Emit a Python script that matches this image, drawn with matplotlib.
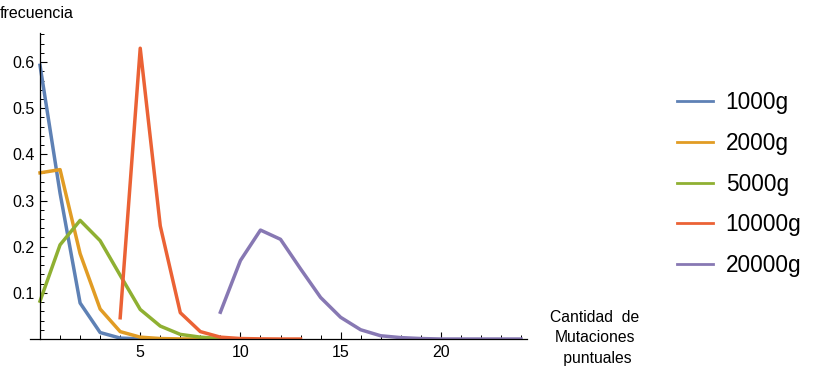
import numpy as np
import matplotlib
matplotlib.use('Agg')
import matplotlib.pyplot as plt

plt.rcParams['font.family'] = ['Liberation Sans', 'DejaVu Sans']

# frecuencia de mutaciones puntuales por generacion
labels = ['1000g', '2000g', '5000g', '10000g', '20000g']
colors = ['#5E81B5', '#E19C24', '#8FB032', '#EB6235', '#8778B3']

x_1000 = np.arange(0, 7)
f_1000 = [0.593, 0.316, 0.078, 0.014, 0.002, 0.0003, 0.0]

x_2000 = np.arange(0, 9)
f_2000 = [0.360, 0.367, 0.185, 0.065, 0.016, 0.004, 0.001, 0.0002, 0.0]

x_5000 = np.arange(0, 11)
f_5000 = [0.082, 0.204, 0.257, 0.213, 0.138, 0.064, 0.028, 0.010, 0.004, 0.001, 0.0]

x_10000 = np.arange(4, 14)
f_10000 = [0.046, 0.630, 0.245, 0.057, 0.016, 0.004, 0.001, 0.0003, 0.0, 0.0]

x_20000 = np.arange(9, 25)
f_20000 = [0.058, 0.170, 0.236, 0.216, 0.152, 0.090, 0.047, 0.020, 0.007,
           0.003, 0.001, 0.0, 0.0, 0.0, 0.0, 0.0]

series = [(x_1000, f_1000), (x_2000, f_2000), (x_5000, f_5000),
          (x_10000, f_10000), (x_20000, f_20000)]

fig = plt.figure(figsize=(8.17, 3.73), dpi=100)
ax = fig.add_axes([30 / 817, 1 - 339 / 373, 497 / 817, 306 / 373])

for (xs, ys), lab, c in zip(series, labels, colors):
    ax.plot(xs, ys, color=c, lw=2.5, label=lab, solid_joinstyle='round')

ax.set_xlim(-0.5, 24.3)
ax.set_ylim(0, 0.663)

ax.spines['left'].set_position(('data', 0))
ax.spines['bottom'].set_position(('data', 0))
ax.spines['top'].set_visible(False)
ax.spines['right'].set_visible(False)
for s in ['left', 'bottom']:
    ax.spines[s].set_linewidth(0.9)

ax.set_xticks([5, 10, 15, 20])
ax.set_xticks(np.arange(1, 25), minor=True)
ax.set_yticks([0.1, 0.2, 0.3, 0.4, 0.5, 0.6])
ax.set_yticks(np.arange(0.02, 0.661, 0.02), minor=True)
ax.tick_params(axis='both', which='major', direction='in', length=5, width=0.8,
               labelsize=11.5, pad=4)
ax.tick_params(axis='both', which='minor', direction='in', length=3, width=0.7)

fig.text(0, 1 - 14 / 373, 'frecuencia', fontsize=11.5, va='center', ha='left')
fig.text(595 / 817, 1 - 338 / 373, 'Cantidad  de\nMutaciones\n puntuales',
         fontsize=11.3, ha='center', va='center', linespacing=1.45)

leg = ax.legend(loc='center left', bbox_to_anchor=(677 / 817, 1 - 184 / 373),
                bbox_transform=fig.transFigure, frameon=False, fontsize=16.3,
                handlelength=1.6, handletextpad=0.55, labelspacing=0.78,
                borderpad=0, borderaxespad=0)
for ln in leg.get_lines():
    ln.set_linewidth(2.0)

fig.savefig('out.png', dpi=100)
